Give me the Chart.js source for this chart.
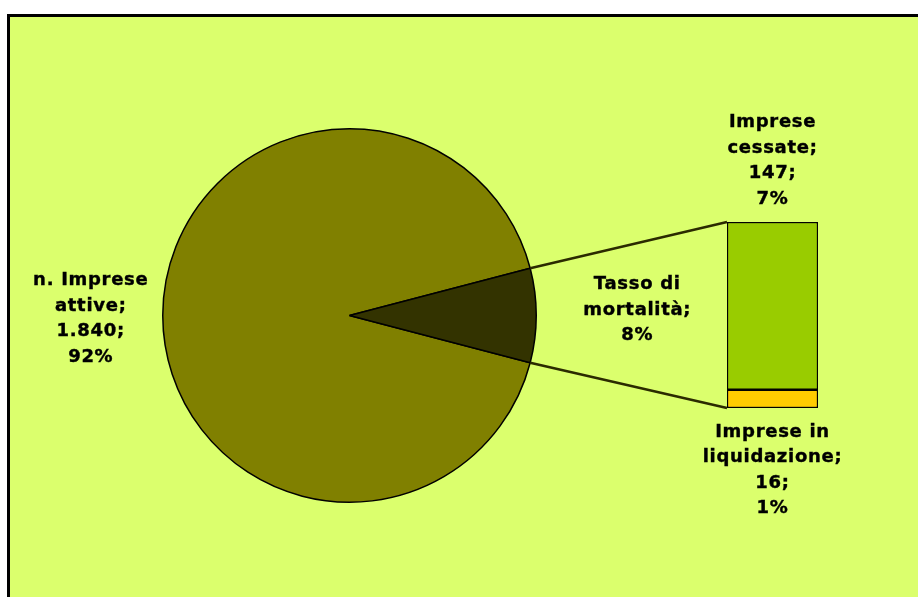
<!DOCTYPE html>
<html>
<head>
<meta charset="utf-8">
<script src="https://cdn.jsdelivr.net/npm/chart.js@4"></script>
<style>
    html, body { margin: 0; padding: 0; background: #ffffff; }
    #page { position: relative; width: 918px; height: 597px; overflow: hidden; }
    #frame {
        position: absolute; left: 7px; top: 14px; right: 0; bottom: 0;
        background: #DBFF6D;
        border-left: 3px solid #000;
        border-top: 3px solid #000;
    }
    canvas { position: absolute; left: 0; top: 0; }
</style>
</head>
<body>
<div id="page">
    <div id="frame"></div>
    <canvas id="pie" width="918" height="597"></canvas>
    <canvas id="bar" width="918" height="597"></canvas>
</div>
<script>
// Pie: active firms vs. mortality (closed + in liquidation)
const pieLabels = ['n. Imprese attive', 'Tasso di mortalità'];
const pieColors = ['#808000', '#333300'];

// Bar: breakdown of the mortality slice (bottom to top)
const barLabels = ['Imprese in liquidazione', 'Imprese cessate'];
const barValues = [16, 147];
const barColors = ['#FFCC00', '#99CC00'];

const activeFirms = 1840;
const mortalityTotal = barValues.reduce((a, b) => a + b, 0);
const pieValues = [activeFirms, mortalityTotal];
const grandTotal = pieValues[0] + pieValues[1];

const FONT = 'bold 18px "DejaVu Sans", Verdana, sans-serif';
const LINE_H = 25.5;

// Italian thousands separator (it-IT does not group 4 digit numbers)
function fmt(n) {
    return String(n).replace(/\B(?=(\d{3})+(?!\d))/g, '.');
}
function pct(n) {
    return Math.round(n / grandTotal * 100) + '%';
}

function drawBlock(ctx, lines, x, firstBaseline) {
    ctx.save();
    ctx.font = FONT;
    ctx.fillStyle = '#000';
    ctx.strokeStyle = '#000';
    ctx.lineWidth = 0.4;
    ctx.textAlign = 'center';
    ctx.textBaseline = 'alphabetic';
    ctx.letterSpacing = '0.7px';
    lines.forEach((t, i) => {
        ctx.fillText(t, x, firstBaseline + i * LINE_H);
        ctx.strokeText(t, x, firstBaseline + i * LINE_H);
    });
    ctx.restore();
}

const pieChart = new Chart(document.getElementById('pie'), {
    type: 'pie',
    data: {
        labels: pieLabels,
        datasets: [{
            data: pieValues,
            backgroundColor: pieColors,
            borderColor: '#000',
            borderWidth: 1.5
        }]
    },
    options: {
        responsive: false,
        animation: false,
        // centre the small slice on 3 o'clock
        rotation: 90 + 180 * mortalityTotal / grandTotal,
        layout: { padding: { left: 162, right: 381, top: 128, bottom: 94 } },
        plugins: { legend: { display: false }, tooltip: { enabled: false } }
    }
});

const overlayPlugin = {
    id: 'overlay',
    afterDatasetsDraw(chart) {
        const ctx = chart.ctx;
        const arc = pieChart.getDatasetMeta(0).data[1];
        const bottomBar = chart.getDatasetMeta(0).data[0];
        const topBar = chart.getDatasetMeta(1).data[0];
        const barLeft = topBar.x - topBar.width / 2;
        const barTop = topBar.y;
        const barBottom = bottomBar.base;
        const barCenter = topBar.x;

        // connector lines from the slice edge to the bar corners
        const r = arc.outerRadius;
        ctx.save();
        ctx.strokeStyle = '#2B2B00';
        ctx.lineWidth = 2.5;
        ctx.beginPath();
        ctx.moveTo(arc.x + r * Math.cos(arc.startAngle), arc.y + r * Math.sin(arc.startAngle));
        ctx.lineTo(barLeft, barTop);
        ctx.moveTo(arc.x + r * Math.cos(arc.endAngle), arc.y + r * Math.sin(arc.endAngle));
        ctx.lineTo(barLeft, barBottom);
        ctx.stroke();
        ctx.restore();

        // data labels
        drawBlock(ctx, ['n. Imprese', 'attive;', fmt(pieValues[0]) + ';', pct(pieValues[0])],
            arc.x - r - 72, arc.y - 30.5);
        drawBlock(ctx, ['Tasso di', 'mortalità;', pct(pieValues[1])],
            arc.x + r + 101, arc.y - 26.5);
        drawBlock(ctx, ['Imprese', 'cessate;', fmt(barValues[1]) + ';', pct(barValues[1])],
            barCenter, barTop - 95);
        drawBlock(ctx, ['Imprese in', 'liquidazione;', fmt(barValues[0]) + ';', pct(barValues[0])],
            barCenter, barBottom + 28.5);
    }
};

new Chart(document.getElementById('bar'), {
    type: 'bar',
    data: {
        labels: [''],
        datasets: barValues.map((v, i) => ({
            label: barLabels[i],
            data: [v],
            backgroundColor: barColors[i],
            borderColor: '#000',
            borderWidth: 1.5,
            borderSkipped: false,
            barPercentage: 1,
            categoryPercentage: 1
        }))
    },
    options: {
        responsive: false,
        animation: false,
        layout: { padding: { left: 727, right: 100, top: 222, bottom: 189 } },
        scales: {
            x: { display: false, stacked: true },
            y: { display: false, stacked: true, min: 0, max: mortalityTotal }
        },
        plugins: { legend: { display: false }, tooltip: { enabled: false } }
    },
    plugins: [overlayPlugin]
});
</script>
</body>
</html>
